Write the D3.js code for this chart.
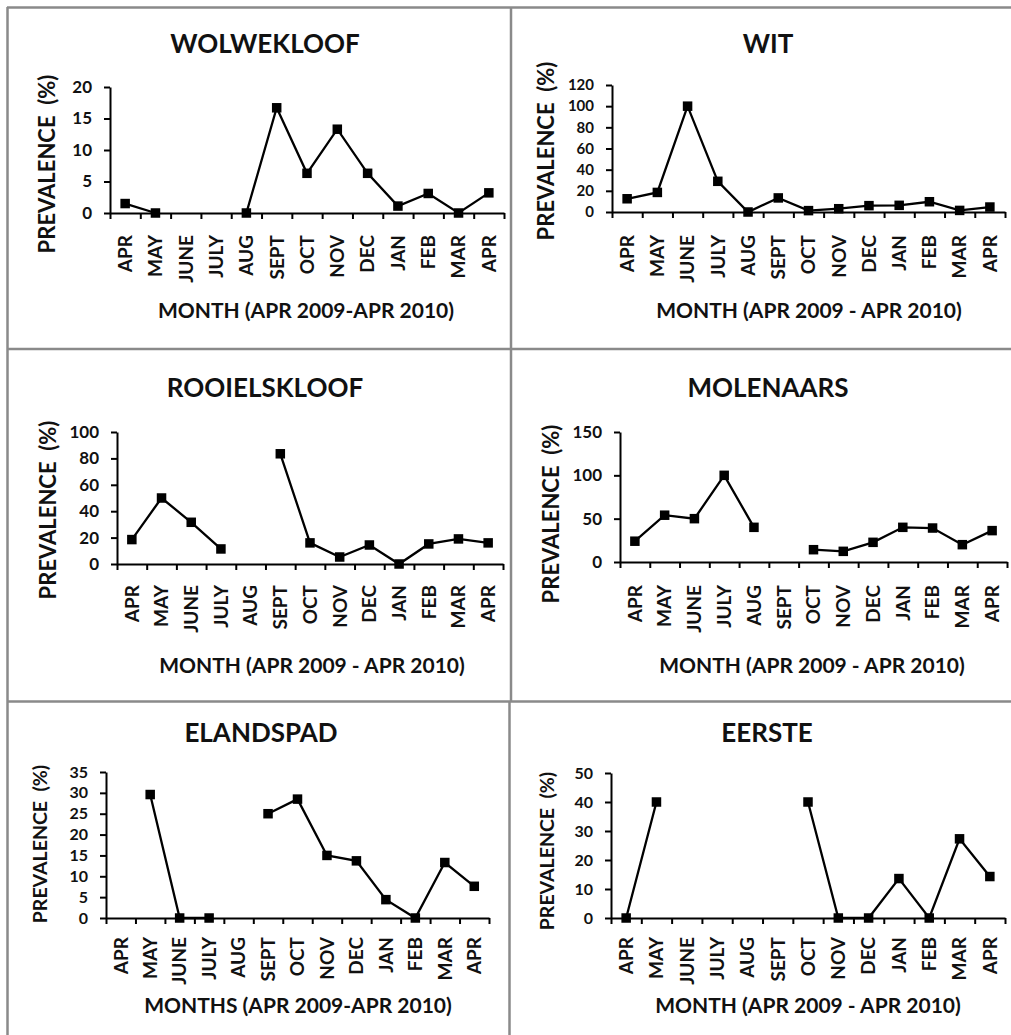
<!DOCTYPE html>
<html>
<head>
<meta charset="utf-8">
<script src="https://cdn.jsdelivr.net/npm/d3@7"></script>
<style>
  html, body { margin: 0; padding: 0; background: #fff; }
  svg { display: block; font-family: Lato, "Open Sans", sans-serif; font-weight: bold; }
  text { fill: #111; }
</style>
</head>
<body>
<svg id="chart" width="1011" height="1035"></svg>
<script>
// Sampling months, April 2009 to April 2010
const months = ["APR", "MAY", "JUNE", "JULY", "AUG", "SEPT", "OCT", "NOV", "DEC", "JAN", "FEB", "MAR", "APR"];

// Prevalence (%) per site; null = no sample that month
const wolwekloof   = [1.5, 0, null, null, 0, 16.7, 6.3, 13.3, 6.3, 1.1, 3.1, 0, 3.2];
const wit          = [12.5, 18.5, 100, 29, 0, 13.3, 1.3, 3.1, 6, 6.3, 9.7, 1.5, 4.7];
const rooielskloof = [18.5, 50, 31.6, 11.4, null, 83.5, 16, 5.3, 14.4, 0, 15.2, 19, 16];
const molenaars    = [24, 54, 50, 100, 40, null, 14.2, 12.3, 22.7, 40, 39.2, 20, 36.2];
const elandspad    = [null, 29.6, 0, 0, null, 25, 28.5, 15, 13.7, 4.4, 0, 13.3, 7.6];
const eerste       = [0, 40, null, null, null, null, 40, 0, 0, 13.6, 0, 27.3, 14.3];

// Y tick labels per site
const ticksWolwekloof   = [0, 5, 10, 15, 20];
const ticksWit          = [0, 20, 40, 60, 80, 100, 120];
const ticksRooielskloof = [0, 20, 40, 60, 80, 100];
const ticksMolenaars    = [0, 50, 100, 150];
const ticksElandspad    = [0, 5, 10, 15, 20, 25, 30, 35];
const ticksEerste       = [0, 10, 20, 30, 40, 50];

const titles = ["WOLWEKLOOF", "WIT", "ROOIELSKLOOF", "MOLENAARS", "ELANDSPAD", "EERSTE"];
const xTitles = [
  "MONTH (APR 2009-APR 2010)",
  "MONTH (APR 2009 - APR 2010)",
  "MONTH (APR 2009 - APR 2010)",
  "MONTH (APR 2009 - APR 2010)",
  "MONTHS (APR 2009-APR 2010)",
  "MONTH (APR 2009 - APR 2010)"
];

// Panel layout: plot box, title and label placement
const panels = [
  { values: wolwekloof, ticks: ticksWolwekloof, left: 110, right: 504, top: 87, bottom: 213,
    titleX: 265, titleY: 53, yLabX: 55, yLabY: 164, xTitleX: 306, xTitleY: 318, labGap: 22, tickFont: 17, yLabFont: 22 },
  { values: wit, ticks: ticksWit, left: 612, right: 1005, top: 85, bottom: 212,
    titleX: 768, titleY: 53, yLabX: 554, yLabY: 151, xTitleX: 809, xTitleY: 318, labGap: 23, tickFont: 15, yLabFont: 22 },
  { values: rooielskloof, ticks: ticksRooielskloof, left: 117, right: 503, top: 432, bottom: 564,
    titleX: 265, titleY: 397, yLabX: 56, yLabY: 510, xTitleX: 312, xTitleY: 673, labGap: 21, tickFont: 17, yLabFont: 22 },
  { values: molenaars, ticks: ticksMolenaars, left: 620, right: 1007, top: 432, bottom: 562,
    titleX: 768, titleY: 397, yLabX: 559, yLabY: 514, xTitleX: 812, xTitleY: 673, labGap: 23, tickFont: 17, yLabFont: 22 },
  { values: elandspad, ticks: ticksElandspad, left: 106, right: 489, top: 772, bottom: 918,
    titleX: 261, titleY: 742, yLabX: 47, yLabY: 844, xTitleX: 298, xTitleY: 1013, labGap: 19, tickFont: 16, yLabFont: 19.5 },
  { values: eerste, ticks: ticksEerste, left: 611, right: 1005, top: 773, bottom: 918,
    titleX: 767, titleY: 742, yLabX: 554, yLabY: 851, xTitleX: 808, xTitleY: 1013, labGap: 19, tickFont: 16, yLabFont: 19.5 }
];

const svg = d3.select("#chart");

// Panel frame lines
const frame = svg.append("g")
  .attr("stroke", "#8a8a8a")
  .attr("stroke-width", 2.5)
  .attr("fill", "none");
[
  [7, 7.5, 1011, 7.5],
  [7.5, 7, 7.5, 1035],
  [511, 7, 511, 702],
  [509.5, 702, 509.5, 1035],
  [7, 349, 1011, 349],
  [7, 701.5, 1011, 701.5]
].forEach(([x1, y1, x2, y2]) => {
  frame.append("line").attr("x1", x1).attr("y1", y1).attr("x2", x2).attr("y2", y2);
});

panels.forEach((p, i) => {
  const g = svg.append("g");
  const n = months.length;

  const yMax = d3.max(p.ticks);
  const y = d3.scaleLinear().domain([0, yMax]).range([p.bottom, p.top]);
  const xBand = d3.scaleBand().domain(d3.range(n)).range([p.left, p.right]).paddingInner(0).paddingOuter(0);
  const xEdge = d3.scaleLinear().domain([0, n]).range([p.left, p.right]);
  const cx = j => xBand(j) + xBand.bandwidth() / 2;

  // Y axis
  const yAxis = g.append("g")
    .attr("transform", `translate(${p.left},0)`)
    .call(d3.axisLeft(y).tickValues(p.ticks).tickSize(6).tickSizeOuter(0).tickPadding(12));
  yAxis.selectAll("path, line").attr("stroke", "#000").attr("stroke-width", 2);
  yAxis.selectAll("text").attr("fill", "#111").style("font-size", p.tickFont + "px")
    .style("font-family", "Lato, sans-serif").style("font-weight", "bold");

  // X axis with tick marks on month boundaries
  const xAxis = g.append("g")
    .attr("transform", `translate(0,${p.bottom})`)
    .call(d3.axisBottom(xEdge).tickValues(d3.range(n + 1)).tickFormat("").tickSize(6).tickSizeOuter(0));
  xAxis.selectAll("path, line").attr("stroke", "#000").attr("stroke-width", 2);

  // Rotated month labels centred on each month
  const labels = g.append("g")
    .attr("transform", `translate(0,${p.bottom + p.labGap})`)
    .call(d3.axisBottom(xBand).tickFormat(j => months[j]).tickSize(0).tickPadding(0));
  labels.select(".domain").remove();
  labels.selectAll("text")
    .attr("transform", "rotate(-90)")
    .attr("text-anchor", "end")
    .attr("x", 0).attr("y", 0).attr("dy", "0.36em")
    .attr("fill", "#111")
    .style("font-size", "19px").style("font-family", "Lato, sans-serif").style("font-weight", "bold");

  // Series line, broken where months are missing
  const pts = p.values.map((v, j) => ({ j, v }));
  const line = d3.line().defined(d => d.v != null).x(d => cx(d.j)).y(d => y(d.v));
  g.append("path")
    .datum(pts)
    .attr("d", line)
    .attr("fill", "none")
    .attr("stroke", "#000")
    .attr("stroke-width", 2.3)
    .attr("stroke-linejoin", "miter");

  // Square markers
  const sq = 9.5;
  g.selectAll("rect.marker")
    .data(pts.filter(d => d.v != null))
    .join("rect")
    .attr("class", "marker")
    .attr("x", d => cx(d.j) - sq / 2)
    .attr("y", d => y(d.v) - sq / 2)
    .attr("width", sq).attr("height", sq)
    .attr("fill", "#000");

  // Titles
  g.append("text")
    .attr("x", p.titleX).attr("y", p.titleY)
    .attr("text-anchor", "middle")
    .style("font-size", "26px")
    .text(titles[i]);

  g.append("text")
    .attr("transform", `translate(${p.yLabX},${p.yLabY}) rotate(-90)`)
    .attr("text-anchor", "middle")
    .style("font-size", p.yLabFont + "px")
    .style("white-space", "pre")
    .text("PREVALENCE  (%)");

  g.append("text")
    .attr("x", p.xTitleX).attr("y", p.xTitleY)
    .attr("text-anchor", "middle")
    .style("font-size", "21px")
    .text(xTitles[i]);
});
</script>
</body>
</html>
